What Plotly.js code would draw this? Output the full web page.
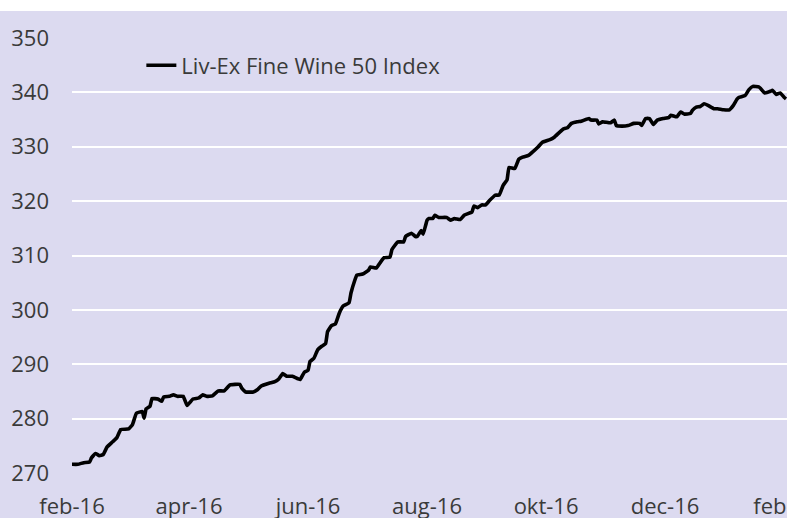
<!DOCTYPE html>
<html>
<head>
<meta charset="utf-8">
<script src="https://cdn.plot.ly/plotly-3.0.1.min.js"></script>
<style>
  html, body { margin: 0; padding: 0; background: #ffffff; }
  #chart { position: absolute; left: 0; top: 11px; width: 787px; height: 507px; }
</style>
</head>
<body>
<div id="chart"></div>
<script>
const seriesName = 'Liv-Ex Fine Wine 50 Index';

const dates = [
  '2016-02-01','2016-02-04','2016-02-07','2016-02-10','2016-02-11','2016-02-13','2016-02-15','2016-02-17','2016-02-19','2016-02-22',
  '2016-02-24','2016-02-26','2016-03-01','2016-03-03','2016-03-05','2016-03-08','2016-03-09','2016-03-10','2016-03-12','2016-03-13',
  '2016-03-16','2016-03-18','2016-03-19','2016-03-22','2016-03-24','2016-03-26','2016-03-29','2016-03-31','2016-04-03','2016-04-06',
  '2016-04-08','2016-04-10','2016-04-13','2016-04-16','2016-04-19','2016-04-22','2016-04-27','2016-04-28','2016-04-30','2016-05-04',
  '2016-05-06','2016-05-08','2016-05-12','2016-05-15','2016-05-17','2016-05-19','2016-05-21','2016-05-24','2016-05-27','2016-05-28',
  '2016-05-30','2016-06-01','2016-06-02','2016-06-04','2016-06-06','2016-06-08','2016-06-10','2016-06-11','2016-06-13','2016-06-15',
  '2016-06-17','2016-06-19','2016-06-22','2016-06-23','2016-06-25','2016-06-26','2016-06-29','2016-07-02','2016-07-03','2016-07-06',
  '2016-07-08','2016-07-10','2016-07-13','2016-07-14','2016-07-17','2016-07-20','2016-07-21','2016-07-24','2016-07-26','2016-07-27',
  '2016-07-29','2016-07-30','2016-08-01','2016-08-02','2016-08-04','2016-08-05','2016-08-07','2016-08-11','2016-08-13','2016-08-15',
  '2016-08-18','2016-08-20','2016-08-24','2016-08-25','2016-08-27','2016-08-29','2016-08-31','2016-09-02','2016-09-05','2016-09-07',
  '2016-09-09','2016-09-11','2016-09-12','2016-09-15','2016-09-17','2016-09-19','2016-09-22','2016-09-24','2016-09-27','2016-09-29',
  '2016-10-03','2016-10-05','2016-10-08','2016-10-10','2016-10-12','2016-10-14','2016-10-17','2016-10-19','2016-10-23','2016-10-24',
  '2016-10-27','2016-10-28','2016-10-30','2016-11-03','2016-11-05','2016-11-06','2016-11-09','2016-11-12','2016-11-15','2016-11-18',
  '2016-11-19','2016-11-21','2016-11-23','2016-11-25','2016-11-27','2016-11-30','2016-12-03','2016-12-04','2016-12-07','2016-12-09',
  '2016-12-11','2016-12-14','2016-12-15','2016-12-17','2016-12-19','2016-12-21','2016-12-23','2016-12-26','2016-12-28','2016-12-31',
  '2017-01-03','2017-01-05','2017-01-07','2017-01-08','2017-01-11','2017-01-13','2017-01-15','2017-01-18','2017-01-19','2017-01-21',
  '2017-01-24','2017-01-25','2017-01-27','2017-01-29','2017-01-31','2017-02-01'
];

const values = [
  271.6,271.6,271.9,272.0,272.8,273.6,273.2,273.4,274.8,275.8,
  276.5,278.0,278.1,278.9,281.0,281.3,280.1,281.8,282.3,283.7,
  283.6,283.2,284.0,284.1,284.4,284.1,284.1,282.4,283.6,283.8,
  284.4,284.1,284.2,285.1,285.1,286.2,286.3,285.6,284.9,284.9,
  285.3,286.0,286.5,286.8,287.3,288.3,287.8,287.8,287.3,287.2,
  288.5,288.9,290.5,291.1,292.7,293.3,293.8,296.0,297.1,297.4,
  299.4,300.7,301.3,303.1,305.5,306.4,306.6,307.3,307.9,307.7,
  308.7,309.6,309.7,311.1,312.5,312.5,313.5,314.1,313.5,313.5,
  314.6,313.9,316.5,316.8,316.8,317.4,317.0,317.0,316.5,316.8,
  316.6,317.4,318.0,319.1,318.8,319.3,319.3,320.1,321.1,321.1,
  322.9,323.9,326.2,326.0,327.7,328.1,328.4,329.0,330.0,330.8,
  331.3,331.7,332.7,333.3,333.5,334.3,334.6,334.7,335.2,334.9,
  334.9,334.2,334.6,334.4,334.9,333.9,333.8,333.9,334.3,334.3,
  333.9,335.2,335.2,334.1,334.9,335.2,335.4,335.8,335.5,336.4,
  336.0,336.1,336.7,337.3,337.4,337.9,337.6,337.0,337.0,336.8,
  336.8,337.6,338.8,339.1,339.4,340.5,341.1,341.0,340.7,339.9,
  340.2,340.4,339.6,339.9,339.1,338.8
];

const tickDates  = ['2016-02-01','2016-04-01','2016-06-01','2016-08-01','2016-10-01','2016-12-01','2017-02-01'];
const tickLabels = ['feb-16','apr-16','jun-16','aug-16','okt-16','dec-16','feb-17'];
const yTicks = [270, 280, 290, 300, 310, 320, 330, 340, 350];

const trace = {
  type: 'scatter',
  mode: 'lines',
  name: seriesName,
  x: dates,
  y: values,
  line: { color: '#000000', width: 3.6, shape: 'spline', smoothing: 0.3 },
  hoverinfo: 'skip'
};

const layout = {
  width: 787,
  height: 507,
  margin: { l: 72, r: 0, t: 27, b: 45, pad: 0 },
  paper_bgcolor: '#dcdaf0',
  plot_bgcolor: '#dcdaf0',
  font: { family: '"Open Sans", "DejaVu Sans", sans-serif', size: 22, color: '#3a3a3a' },
  showlegend: true,
  legend: {
    x: 0.097, xanchor: 'left',
    y: 0.937, yanchor: 'middle',
    bgcolor: 'rgba(0,0,0,0)',
    borderwidth: 0,
    font: { family: '"Open Sans", sans-serif', size: 22, color: '#3a3a3a' }
  },
  xaxis: {
    type: 'date',
    range: ['2016-02-01', '2017-02-01 12:00'],
    tickmode: 'array',
    tickvals: tickDates,
    ticktext: tickLabels,
    ticklabeloverflow: 'allow',
    showgrid: false,
    zeroline: false,
    showline: false,
    ticks: '',
    ticklabelstandoff: 18,
    fixedrange: true
  },
  yaxis: {
    range: [270, 350],
    tickmode: 'array',
    tickvals: yTicks,
    ticktext: yTicks.map(String),
    showgrid: true,
    gridcolor: '#ffffff',
    gridwidth: 2,
    zeroline: false,
    showline: false,
    ticks: '',
    ticklabelstandoff: 22,
    fixedrange: true
  }
};

Plotly.newPlot('chart', [trace], layout, { staticPlot: true, displayModeBar: false });
</script>
</body>
</html>
